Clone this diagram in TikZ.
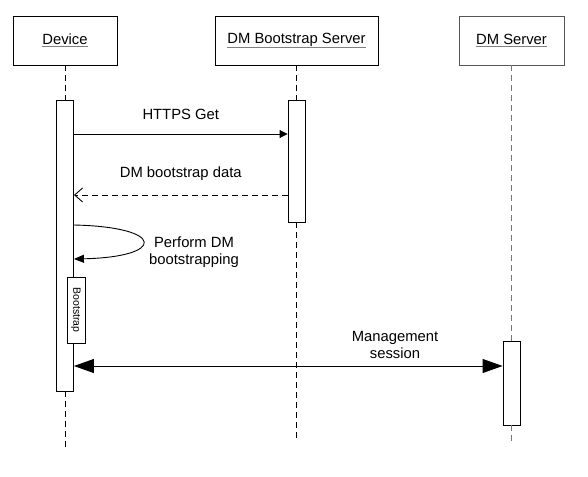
\documentclass[tikz,border=0pt]{standalone}
\usepackage{fontspec}
\setmainfont{Liberation Sans}
\usetikzlibrary{arrows.meta, positioning}
\definecolor{Ink}{HTML}{000000}
\definecolor{Rule}{HTML}{808080}
\definecolor{Frame}{HTML}{555555}
\newcommand{\grayline}[1]{\textcolor{Rule}{\underline{\textcolor{Ink}{#1}}}}

\begin{document}
\begin{tikzpicture}[x=1pt, y=-1pt, line width=0.9pt,
    every node/.style={font=\fontsize{14.8}{17.5}\selectfont},
    party/.style={draw, minimum height=49pt, inner sep=0pt},
    bar/.style={draw, fill=white, minimum width=17pt, inner sep=0pt},
    life/.style={dash pattern=on 6pt off 4pt},
    msg/.style={-{Triangle[length=8pt, width=8pt]}},
    reply/.style={dash pattern=on 6pt off 4pt, -{Straight Barb[length=8pt, width=14pt]}}]
  \useasboundingbox[fill=white] (0,0) rectangle (588,476);
  % participants
  \node[party, minimum width=104pt] (device) at (65,40.5) {\grayline{Device}};
  \node[party, minimum width=163pt] (bss) at (296.5,40.5) {\grayline{DM Bootstrap Server}};
  \node[party, minimum width=105pt, draw=Frame] (dms) at (511.5,40.5) {\grayline{DM Server}};
  % activation bars
  \node[bar, minimum height=291pt] (devbar) at (65,245.5) {};
  \node[bar, minimum height=122pt] (bssbar) at (296.5,161) {};
  \node[bar, minimum height=84pt] (dmsbar) at (511.5,383) {};
  \coordinate (devend) at (65,447);
  \coordinate (bssend) at (296.5,441);
  \coordinate (dmsend) at (511.5,443);
  % lifelines
  \draw[life] (device) -- (devbar);
  \draw[life] (devbar) -- (devend);
  \draw[life] (bss) -- (bssbar);
  \draw[life] (bssbar) -- (bssend);
  \draw[life, Frame!80] (dms) -- (dmsbar);
  \draw[life, Frame!80] (dmsbar) -- (dmsend);
  % messages
  \draw[msg] (devbar.east |- 0,134) -- (bssbar.west |- 0,134)
    node[midway, above=11pt] (get) {HTTPS Get};
  \draw[reply] (bssbar.west |- 0,195) -- (devbar.east |- 0,195)
    node[midway, above=11pt] (data) {DM bootstrap data};
  \draw[-{Triangle[length=10pt, width=8pt]}] (devbar.east |- 0,225)
    .. controls (166,227) and (166,257) .. (devbar.east |- 0,259);
  \node[align=center] (perform) at (194,252) {Perform DM\\bootstrapping};
  \node[draw, fill=white, rotate=-90, minimum width=66pt, minimum height=18pt,
    inner sep=0pt, font=\fontsize{10.5}{12}\selectfont] (boot) at (76,310) {Bootstrap};
  \draw[{Triangle[length=20pt, width=14pt]}-{Triangle[length=20pt, width=14pt]}]
    (devbar.east |- 0,366) -- (dmsbar.west |- 0,366);
  \node[align=center] (mgmt) at (395,345) {Management\\session};
\end{tikzpicture}
\end{document}
